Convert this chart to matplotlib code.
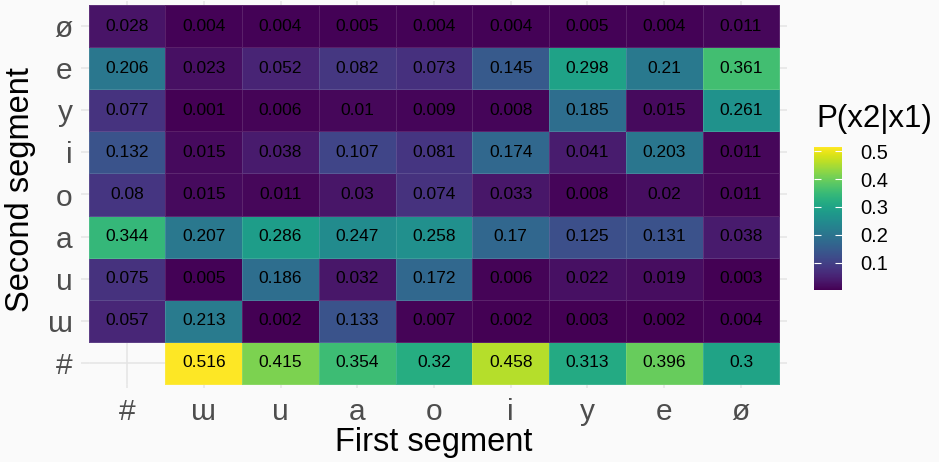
import numpy as np
import matplotlib.pyplot as plt

plt.rcParams['font.family'] = ['Liberation Sans', 'DejaVu Sans']

segments = ['#', 'ɯ', 'u', 'a', 'o', 'i', 'y', 'e', 'ø']  # x order, and y order bottom->top

# rows = second segment, columns = first segment
row_hash = [np.nan, 0.516, 0.415, 0.354, 0.32, 0.458, 0.313, 0.396, 0.3]
row_w = [0.057, 0.213, 0.002, 0.133, 0.007, 0.002, 0.003, 0.002, 0.004]
row_u = [0.075, 0.005, 0.186, 0.032, 0.172, 0.006, 0.022, 0.019, 0.003]
row_a = [0.344, 0.207, 0.286, 0.247, 0.258, 0.17, 0.125, 0.131, 0.038]
row_o = [0.08, 0.015, 0.011, 0.03, 0.074, 0.033, 0.008, 0.02, 0.011]
row_i = [0.132, 0.015, 0.038, 0.107, 0.081, 0.174, 0.041, 0.203, 0.011]
row_y = [0.077, 0.001, 0.006, 0.01, 0.009, 0.008, 0.185, 0.015, 0.261]
row_e = [0.206, 0.023, 0.052, 0.082, 0.073, 0.145, 0.298, 0.21, 0.361]
row_oe = [0.028, 0.004, 0.004, 0.005, 0.004, 0.004, 0.005, 0.004, 0.011]

cbar_ticks = [0.1, 0.2, 0.3, 0.4, 0.5]

Z = np.array([row_hash, row_w, row_u, row_a, row_o, row_i, row_y, row_e, row_oe])
Zm = np.ma.masked_invalid(Z)

bg = '#fafafa'
fig = plt.figure(figsize=(9.39, 4.62), dpi=100, facecolor=bg)
ax = fig.add_axes([81 / 939, 1 - 388 / 462, 706 / 939, 387 / 462])
ax.set_facecolor(bg)

n = len(segments)
edges = np.arange(n + 1) - 0.5
vmin, vmax = np.nanmin(Z), np.nanmax(Z)
mesh = ax.pcolormesh(edges, edges, Zm, cmap='viridis', vmin=vmin, vmax=vmax,
                     edgecolors=(1, 1, 1, 0.12), linewidth=0.5, zorder=2)

for r in range(n):
    for c in range(n):
        v = Z[r, c]
        if np.isnan(v):
            continue
        ax.text(c, r, f'{round(v, 3):g}', ha='center', va='center',
                fontsize=12.5, color='black', zorder=3)

ax.set_xticks(range(n))
ax.set_yticks(range(n))
ax.set_xticklabels(segments)
ax.set_yticklabels(segments)
ax.set_xlim(-0.6, n - 0.4)
ax.set_ylim(-0.6, n - 0.4)
ax.tick_params(length=0, labelsize=21.5, labelcolor='#4d4d4d')
ax.tick_params(axis='x', pad=7)
ax.tick_params(axis='y', pad=6)
ax.grid(True, color='#e4e4e4', linewidth=1.1, zorder=0)
ax.set_axisbelow(True)
for s in ax.spines.values():
    s.set_visible(False)

fig.text(434 / 939, 1 - 443 / 462, 'First segment', ha='center', va='center', fontsize=23.5)
fig.text(21 / 939, 1 - 190 / 462, 'Second segment', ha='center', va='center',
         rotation=90, fontsize=23.5)

# colourbar
cax = fig.add_axes([814 / 939, 1 - 290 / 462, 28 / 939, 143 / 462])
cb = fig.colorbar(mesh, cax=cax, ticks=cbar_ticks)
cb.outline.set_visible(False)
cax.tick_params(axis='y', direction='in', length=5, width=0.8, color='white',
                left=True, right=True, labelsize=14.5, pad=13)
fig.text(816 / 939, 1 - 119 / 462, 'P(x2|x1)', ha='left', va='center', fontsize=22.5)

fig.savefig('out.png', dpi=100, facecolor=bg)
